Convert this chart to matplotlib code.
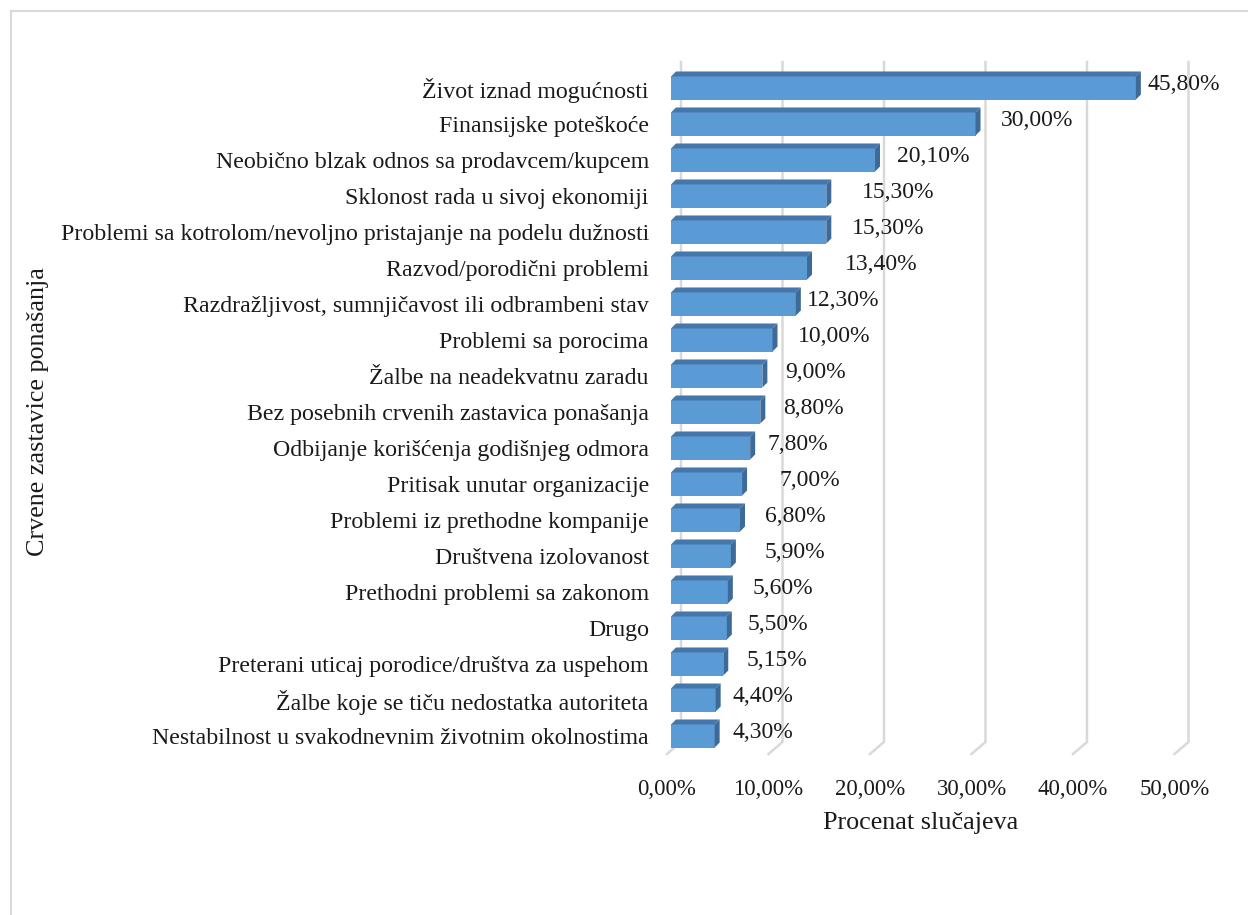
import matplotlib
matplotlib.use("Agg")
import matplotlib.pyplot as plt
from matplotlib.patches import Polygon
from matplotlib.lines import Line2D
from matplotlib.transforms import ScaledTranslation

categories = [
    "Život iznad mogućnosti",
    "Finansijske poteškoće",
    "Neobično blzak odnos sa prodavcem/kupcem",
    "Sklonost rada u sivoj ekonomiji",
    "Problemi sa kotrolom/nevoljno pristajanje na podelu dužnosti",
    "Razvod/porodični problemi",
    "Razdražljivost, sumnjičavost ili odbrambeni stav",
    "Problemi sa porocima",
    "Žalbe na neadekvatnu zaradu",
    "Bez posebnih crvenih zastavica ponašanja",
    "Odbijanje korišćenja godišnjeg odmora",
    "Pritisak unutar organizacije",
    "Problemi iz prethodne kompanije",
    "Društvena izolovanost",
    "Prethodni problemi sa zakonom",
    "Drugo",
    "Preterani uticaj porodice/društva za uspehom",
    "Žalbe koje se tiču nedostatka autoriteta",
    "Nestabilnost u svakodnevnim životnim okolnostima",
]
values = [45.80, 30.00, 20.10, 15.30, 15.30, 13.40, 12.30, 10.00, 9.00, 8.80,
          7.80, 7.00, 6.80, 5.90, 5.60, 5.50, 5.15, 4.40, 4.30]
value_labels = ["45,80%", "30,00%", "20,10%", "15,30%", "15,30%", "13,40%", "12,30%",
                "10,00%", "9,00%", "8,80%", "7,80%", "7,00%", "6,80%", "5,90%",
                "5,60%", "5,50%", "5,15%", "4,40%", "4,30%"]
xticks = [0, 10, 20, 30, 40, 50]
xtick_labels = ["0,00%", "10,00%", "20,00%", "30,00%", "40,00%", "50,00%"]
x_title = "Procenat slučajeva"
y_title = "Crvene zastavice ponašanja"

# label gap (px) from bar end, as placed in the original
label_gap_px = [12, 25, 22, 36, 26, 38, 11, 25, 23, 23, 17, 37, 25, 34, 25, 21, 23, 17, 18]

plt.rcParams['font.family'] = ['Liberation Serif', 'DejaVu Serif']
TXT = '#1a1a1a'
FS_CAT = 17.2
FS_VAL = 17
FS_TICK = 16.5
FS_TITLE = 18.8

W, H = 1248, 915
fig = plt.figure(figsize=(W / 100, H / 100), dpi=100)

ax_left_px, ax_right_px = 671, 1178.5
ax_top_px, ax_bot_px = 62, 754
ax = fig.add_axes([ax_left_px / W, 1 - ax_bot_px / H,
                   (ax_right_px - ax_left_px) / W, (ax_bot_px - ax_top_px) / H])
n = len(categories)
ax.set_xlim(0, 50)
ax.set_ylim(n - 1 + 0.5, -0.722)
for s in ax.spines.values():
    s.set_visible(False)

px_x = (ax_right_px - ax_left_px) / 50.0   # px per %
px_y = (ax_bot_px - ax_top_px) / (n - 1 + 0.5 + 0.722)  # px per unit

def dx(p):
    return p / px_x

def dy(p):
    return p / px_y

# back-wall gridlines with slanted floor part
y_top = -0.722
y_back_bot = n - 1 + 0.5 - dy(12)
y_front = n - 1 + 0.5
for t in xticks:
    xb = t + dx(10)
    xf = t - dx(4)
    ax.add_line(Line2D([xb, xb, xf], [y_top, y_back_bot, y_front], color='#d9d9d9',
                       lw=1.8, zorder=1, clip_on=False, solid_joinstyle='miter'))

# 3D-looking bars
bh = 0.64
front_c, top_c, side_c = '#5b9bd5', '#4677aa', '#3e6a97'
ddx, ddy = dx(5), dy(5)
ypos = list(range(n))
ax.barh(ypos, values, height=bh, left=0, color=front_c, zorder=3, linewidth=0)
for y, v in zip(ypos, values):
    top = y - bh / 2
    bot = y + bh / 2
    ax.add_patch(Polygon([(0, top), (v, top), (v + ddx, top - ddy), (ddx, top - ddy)],
                         closed=True, facecolor=top_c, edgecolor='none', zorder=3, clip_on=False))
    ax.add_patch(Polygon([(v, top), (v + ddx, top - ddy), (v + ddx, bot - ddy), (v, bot)],
                         closed=True, facecolor=side_c, edgecolor='none', zorder=3, clip_on=False))

# value labels
for y, v, lab, g in zip(ypos, values, value_labels, label_gap_px):
    ax.text(v + dx(g), y - dy(3), lab, ha='left', va='center', fontsize=FS_VAL, color=TXT, zorder=5)

# ticks
ax.set_yticks(ypos)
ax.set_yticklabels(categories, fontsize=FS_CAT, color=TXT)
ax.set_xticks(xticks)
ax.set_xticklabels(xtick_labels, fontsize=FS_TICK, color=TXT)
ax.tick_params(axis='y', length=0, pad=16)
ax.tick_params(axis='x', length=0, pad=18)
off = ScaledTranslation(-4 / 100, 0, fig.dpi_scale_trans)
for lab in ax.get_xticklabels():
    lab.set_transform(lab.get_transform() + off)

# axis titles
fig.text(921 / W, 1 - 823 / H, x_title, ha='center', va='center', fontsize=FS_TITLE, color=TXT)
fig.text(38 / W, 1 - 412 / H, y_title, ha='center', va='center', rotation=90,
         fontsize=FS_TITLE, color=TXT)

# chart border
fig.add_artist(Line2D([11 / W, 1.0], [1 - 11 / H, 1 - 11 / H], transform=fig.transFigure,
                      color='#d9d9d9', lw=1.5))
fig.add_artist(Line2D([11 / W, 11 / W], [1 - 11 / H, 0.0], transform=fig.transFigure,
                      color='#d9d9d9', lw=1.5))

fig.savefig("out.png", dpi=100, facecolor='white')
